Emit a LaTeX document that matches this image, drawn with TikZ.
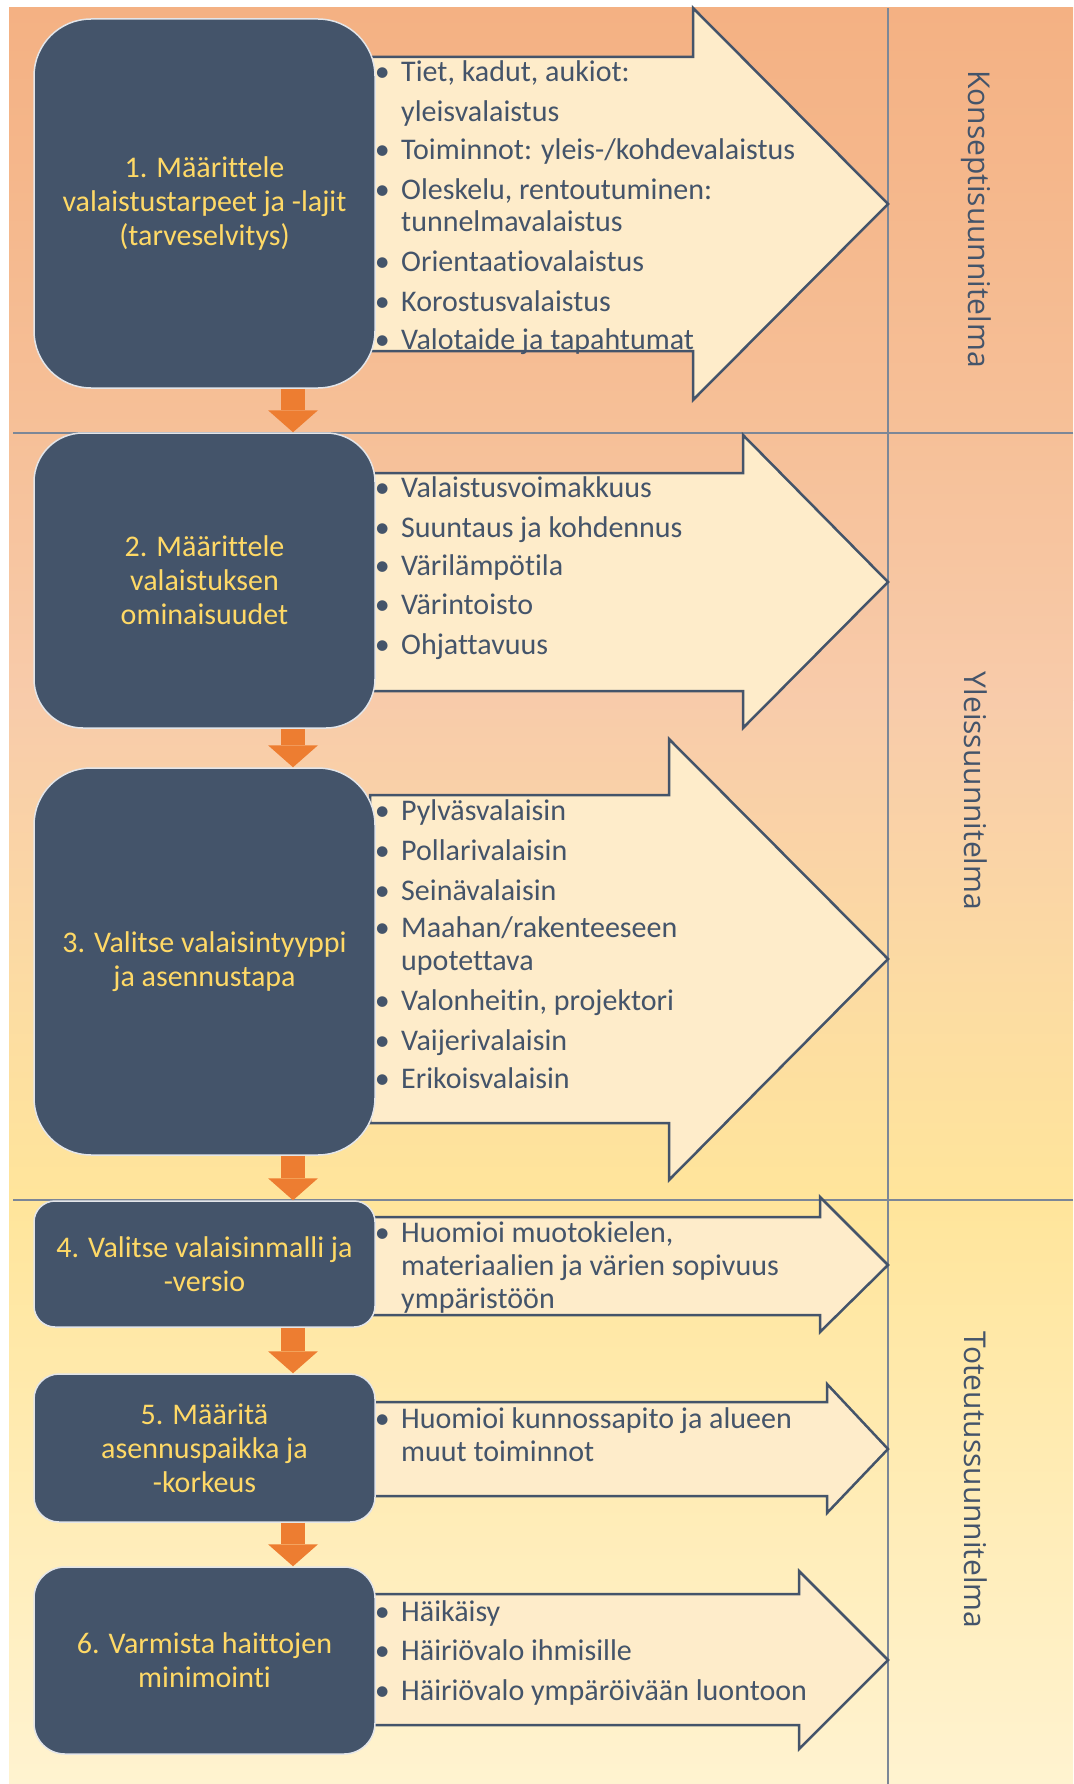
\documentclass[tikz,border=0pt]{standalone}
\usepackage{fontspec}
\setmainfont{Carlito}[Ligatures={NoCommon}]
\newfontfamily\phasefont{Open Sans}
\usetikzlibrary{arrows.meta}

\definecolor{slate}{RGB}{68,84,106}
\definecolor{gold}{RGB}{255,217,102}
\definecolor{cream}{RGB}{254,236,202}
\definecolor{flow}{RGB}{237,125,49}
\definecolor{bgA}{RGB}{244,177,131}
\definecolor{bgB}{RGB}{246,192,152}
\definecolor{bgC}{RGB}{248,203,170}
\definecolor{bgD}{RGB}{252,220,162}
\definecolor{bgE}{RGB}{255,229,155}
\definecolor{bgF}{RGB}{255,243,208}

\tikzset{
  stepbox/.style={draw=white!85!slate, line width=1.5pt, fill=slate, text=gold,
    align=center, minimum width=341pt, font=\fontsize{30}{34}\selectfont},
  bigarrow/.style={draw=slate, line width=2.5pt, fill=cream, line join=miter},
  item/.style={anchor=base west, inner sep=0pt, text=slate, font=\fontsize{30}{33}\selectfont},
  flowarrow/.style={draw=flow, line width=24pt, -{Triangle[width=50pt,length=22pt,line width=0pt]}},
  phase/.style={rotate=-90, text=slate, font=\phasefont\fontsize{30}{36}\selectfont},
  divider/.style={draw=slate!70, line width=1.2pt}
}
\newcommand{\entry}[1]{\begin{tabular}[t]{@{}l@{}}\llap{\textbullet\hspace{11.5pt}}#1\end{tabular}}

\begin{document}
\begin{tikzpicture}[x=1pt,y=1pt,yscale=-1]
\useasboundingbox (0,0) rectangle (1073,1784);

% Background
\shade[top color=bgA, bottom color=bgB] (9,8) rectangle (1073,433);
\shade[top color=bgB, bottom color=bgC] (9,433) rectangle (1073,700);
\shade[top color=bgC, bottom color=bgD] (9,700) rectangle (1073,1000);
\shade[top color=bgD, bottom color=bgE] (9,1000) rectangle (1073,1200);
\shade[top color=bgE, bottom color=bgF] (9,1200) rectangle (1073,1784);

% Phase borders
\draw[divider] (13,433) -- (1073,433);
\draw[divider] (13,1200) -- (1073,1200);
\draw[divider] (888,8) -- (888,1784);

% Result arrows
\draw[bigarrow] (370,57) -- (693,57) -- (693,8) -- (888,204) -- (693,400) -- (693,351) -- (370,351) -- cycle;
\draw[bigarrow] (370,473) -- (743,473) -- (743,435) -- (888,582) -- (743,728) -- (743,691) -- (370,691) -- cycle;
\draw[bigarrow] (370,795) -- (669,795) -- (669,739) -- (888,959) -- (669,1180) -- (669,1123) -- (370,1123) -- cycle;
\draw[bigarrow] (370,1217) -- (820,1217) -- (820,1197) -- (888,1265) -- (820,1332) -- (820,1315) -- (370,1315) -- cycle;
\draw[bigarrow] (370,1402) -- (827,1402) -- (827,1384) -- (888,1449) -- (827,1513) -- (827,1496) -- (370,1496) -- cycle;
\draw[bigarrow] (370,1594) -- (799,1594) -- (799,1571) -- (888,1660) -- (799,1749) -- (799,1725) -- (370,1725) -- cycle;

% Steps
\node[stepbox, minimum height=369pt, rounded corners=57pt] (s1) at (204.5,203.5) {1. Määrittele\\valaistustarpeet ja -lajit\\(tarveselvitys)};
\node[stepbox, minimum height=295pt, rounded corners=49pt] (s2) at (204.5,580.5) {2. Määrittele\\valaistuksen\\ominaisuudet};
\node[stepbox, minimum height=387pt, rounded corners=57pt] (s3) at (204.5,961.5) {3. Valitse valaisintyyppi\\ja asennustapa};
\node[stepbox, minimum height=126pt, rounded corners=21pt] (s4) at (204.5,1264) {4. Valitse valaisinmalli ja\\-versio};
\node[stepbox, minimum height=148pt, rounded corners=25pt] (s5) at (204.5,1448) {5. Määritä\\asennuspaikka ja\\-korkeus};
\node[stepbox, minimum height=187pt, rounded corners=31pt] (s6) at (204.5,1660.5) {6. Varmista haittojen\\minimointi};

% Flow between steps
\coordinate (ax) at (293,0);
\draw[flowarrow] (s1.south -| ax) -- (s2.north -| ax);
\draw[flowarrow] (s2.south -| ax) -- (s3.north -| ax);
\draw[flowarrow] (s3.south -| ax) -- (s4.north -| ax);
\draw[flowarrow] (s4.south -| ax) -- (s5.north -| ax);
\draw[flowarrow] (s5.south -| ax) -- (s6.north -| ax);

% Items
\node[item] (a1) at (401,82) {\entry{Tiet, kadut, aukiot:\\[7pt]yleisvalaistus}};
\node[item] (a2) at (401,160) {\entry{Toiminnot: yleis-/kohdevalaistus}};
\node[item] (a3) at (401,200) {\entry{Oleskelu, rentoutuminen:\\[-1pt]tunnelmavalaistus}};
\node[item] (a4) at (401,272) {\entry{Orientaatiovalaistus}};
\node[item] (a5) at (401,312) {\entry{Korostusvalaistus}};
\node[item] (a6) at (401,349) {\entry{Valotaide ja tapahtumat}};

\node[item] (b1) at (401,497) {\entry{Valaistusvoimakkuus}};
\node[item] (b2) at (401,537) {\entry{Suuntaus ja kohdennus}};
\node[item] (b3) at (401,575) {\entry{Värilämpötila}};
\node[item] (b4) at (401,614) {\entry{Värintoisto}};
\node[item] (b5) at (401,654) {\entry{Ohjattavuus}};

\node[item] (c1) at (401,820) {\entry{Pylväsvalaisin}};
\node[item] (c2) at (401,860) {\entry{Pollarivalaisin}};
\node[item] (c3) at (401,900) {\entry{Seinävalaisin}};
\node[item] (c4) at (401,937) {\entry{Maahan/rakenteeseen\\upotettava}};
\node[item] (c5) at (401,1010) {\entry{Valonheitin, projektori}};
\node[item] (c6) at (401,1050) {\entry{Vaijerivalaisin}};
\node[item] (c7) at (401,1088) {\entry{Erikoisvalaisin}};

\node[item] (d1) at (401,1242) {\entry{Huomioi muotokielen,\\materiaalien ja värien sopivuus\\ympäristöön}};

\node[item] (e1) at (401,1428) {\entry{Huomioi kunnossapito ja alueen\\muut toiminnot}};

\node[item] (f1) at (401,1621) {\entry{Häikäisy}};
\node[item] (f2) at (401,1660) {\entry{Häiriövalo ihmisille}};
\node[item] (f3) at (401,1700) {\entry{Häiriövalo ympäröivään luontoon}};

% Phases
\node[phase] (p1) at (976,219) {Konseptisuunnitelma};
\node[phase] (p2) at (976,791) {Yleissuunnitelma};
\node[phase] (p3) at (976,1480) {Toteutussuunnitelma};

\end{tikzpicture}
\end{document}
